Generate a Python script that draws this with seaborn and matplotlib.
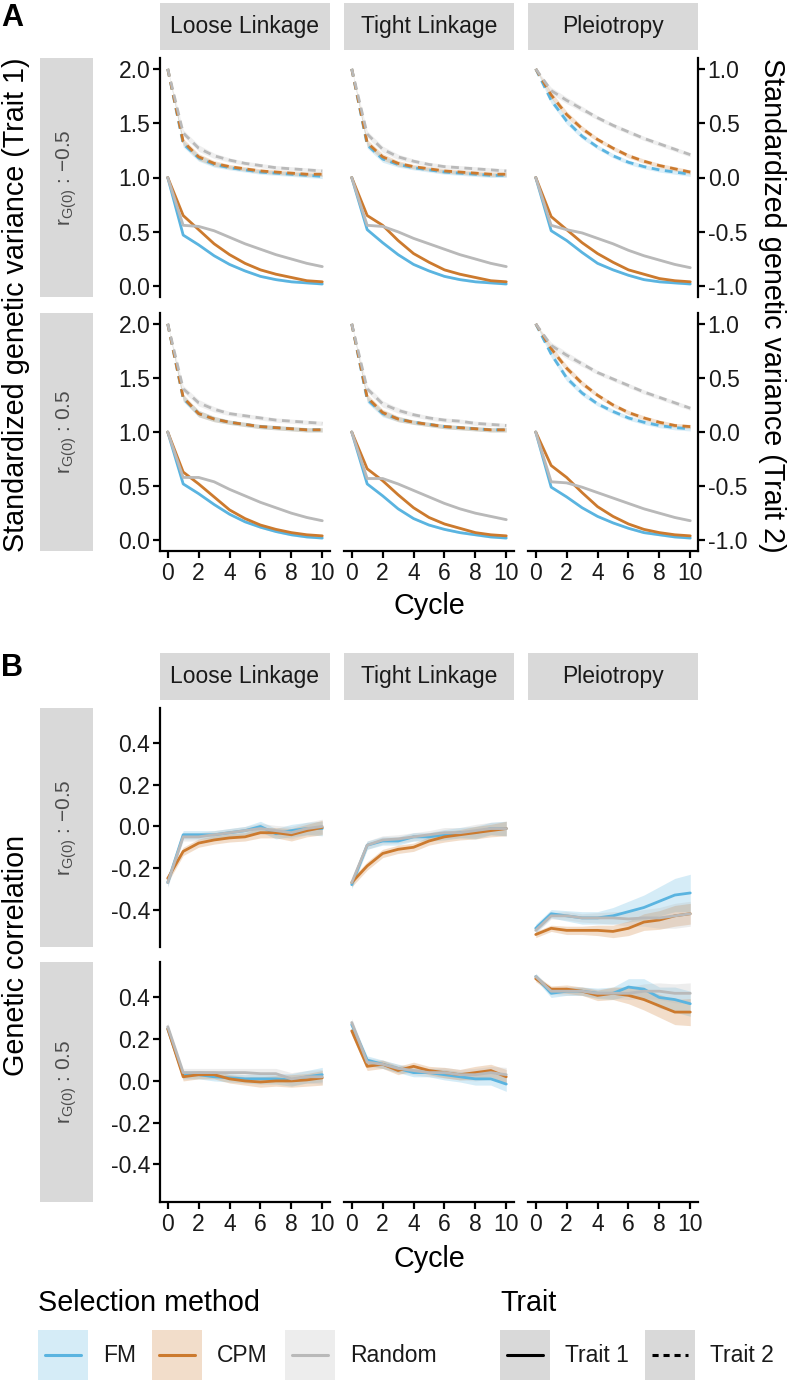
import numpy as np
import pandas as pd
import matplotlib
matplotlib.use("Agg")
import matplotlib.pyplot as plt
import seaborn as sns
from matplotlib.patches import Rectangle
from matplotlib.lines import Line2D
from matplotlib.ticker import FormatStrFormatter

sns.set_theme(style="white")
plt.rcParams['font.family'] = ['Liberation Sans', 'DejaVu Sans']
plt.rcParams['mathtext.fontset'] = 'custom'
plt.rcParams['mathtext.rm'] = 'Liberation Sans'
plt.rcParams['mathtext.it'] = 'Liberation Sans:italic'
plt.rcParams['axes.unicode_minus'] = False

# ---------------- data ----------------
CYCLES = list(range(11))
STRUCTURES = ["Loose Linkage", "Tight Linkage", "Pleiotropy"]
METHODS = ["FM", "CPM", "Random"]
TRAITS = ["Trait 1", "Trait 2"]
RG0 = [-0.5, 0.5]
RG0_LABELS = ["\u22120.5", "0.5"]
COLORS = {"FM": "#5AB4E0", "CPM": "#CC7A2E", "Random": "#B9B9B9"}
X_TICKS = [0, 2, 4, 6, 8, 10]
A_TICKS_LEFT = [0.0, 0.5, 1.0, 1.5, 2.0]
A_TICKS_RIGHT = [-1.0, -0.5, 0.0, 0.5, 1.0]
B_TICKS = [-0.4, -0.2, 0.0, 0.2, 0.4]

# Panel A: standardized genetic variance (Trait 2 in right-axis units)
A_NEG_LOOSE_T1_FM = [1.00, 0.47, 0.38, 0.28, 0.20, 0.14, 0.09, 0.06, 0.04, 0.03, 0.02]
A_NEG_LOOSE_T1_CPM = [1.00, 0.65, 0.52, 0.39, 0.29, 0.21, 0.15, 0.11, 0.08, 0.05, 0.04]
A_NEG_LOOSE_T1_RND = [1.00, 0.56, 0.55, 0.51, 0.45, 0.39, 0.34, 0.29, 0.25, 0.21, 0.18]
A_NEG_LOOSE_T2_FM = [1.00, 0.31, 0.18, 0.12, 0.09, 0.07, 0.05, 0.04, 0.03, 0.02, 0.01]
A_NEG_LOOSE_T2_CPM = [1.00, 0.33, 0.19, 0.13, 0.10, 0.08, 0.06, 0.05, 0.04, 0.03, 0.03]
A_NEG_LOOSE_T2_RND = [1.00, 0.41, 0.27, 0.20, 0.16, 0.13, 0.11, 0.09, 0.08, 0.07, 0.06]

A_NEG_TIGHT_T1_FM = [1.00, 0.52, 0.40, 0.29, 0.20, 0.14, 0.09, 0.06, 0.04, 0.03, 0.02]
A_NEG_TIGHT_T1_CPM = [1.00, 0.65, 0.56, 0.42, 0.30, 0.22, 0.15, 0.11, 0.08, 0.05, 0.04]
A_NEG_TIGHT_T1_RND = [1.00, 0.56, 0.55, 0.50, 0.44, 0.39, 0.34, 0.29, 0.25, 0.21, 0.18]
A_NEG_TIGHT_T2_FM = [1.00, 0.30, 0.17, 0.12, 0.09, 0.07, 0.05, 0.04, 0.03, 0.02, 0.02]
A_NEG_TIGHT_T2_CPM = [1.00, 0.32, 0.19, 0.13, 0.10, 0.08, 0.06, 0.05, 0.04, 0.03, 0.03]
A_NEG_TIGHT_T2_RND = [1.00, 0.40, 0.26, 0.19, 0.15, 0.12, 0.10, 0.09, 0.08, 0.07, 0.06]

A_NEG_PLEIO_T1_FM = [1.00, 0.51, 0.42, 0.31, 0.21, 0.15, 0.10, 0.06, 0.04, 0.03, 0.02]
A_NEG_PLEIO_T1_CPM = [1.00, 0.64, 0.52, 0.40, 0.30, 0.22, 0.15, 0.11, 0.07, 0.05, 0.04]
A_NEG_PLEIO_T1_RND = [1.00, 0.56, 0.52, 0.49, 0.44, 0.39, 0.33, 0.28, 0.24, 0.20, 0.17]
A_NEG_PLEIO_T2_FM = [1.00, 0.71, 0.52, 0.38, 0.28, 0.20, 0.14, 0.10, 0.07, 0.05, 0.03]
A_NEG_PLEIO_T2_CPM = [1.00, 0.76, 0.58, 0.45, 0.35, 0.27, 0.20, 0.15, 0.11, 0.08, 0.05]
A_NEG_PLEIO_T2_RND = [1.00, 0.80, 0.71, 0.63, 0.55, 0.48, 0.42, 0.36, 0.31, 0.26, 0.21]

A_POS_LOOSE_T1_FM = [1.00, 0.52, 0.43, 0.33, 0.24, 0.17, 0.12, 0.08, 0.05, 0.03, 0.02]
A_POS_LOOSE_T1_CPM = [1.00, 0.63, 0.52, 0.40, 0.28, 0.20, 0.14, 0.10, 0.07, 0.05, 0.04]
A_POS_LOOSE_T1_RND = [1.00, 0.58, 0.58, 0.54, 0.47, 0.41, 0.35, 0.30, 0.25, 0.21, 0.18]
A_POS_LOOSE_T2_FM = [1.00, 0.31, 0.17, 0.12, 0.09, 0.07, 0.05, 0.04, 0.03, 0.02, 0.02]
A_POS_LOOSE_T2_CPM = [1.00, 0.32, 0.17, 0.12, 0.09, 0.07, 0.05, 0.04, 0.03, 0.02, 0.02]
A_POS_LOOSE_T2_RND = [1.00, 0.40, 0.27, 0.21, 0.17, 0.15, 0.13, 0.11, 0.10, 0.09, 0.08]

A_POS_TIGHT_T1_FM = [1.00, 0.52, 0.41, 0.29, 0.20, 0.14, 0.10, 0.07, 0.05, 0.03, 0.02]
A_POS_TIGHT_T1_CPM = [1.00, 0.66, 0.55, 0.42, 0.30, 0.21, 0.15, 0.11, 0.07, 0.05, 0.04]
A_POS_TIGHT_T1_RND = [1.00, 0.57, 0.57, 0.52, 0.46, 0.40, 0.34, 0.29, 0.25, 0.22, 0.19]
A_POS_TIGHT_T2_FM = [1.00, 0.30, 0.17, 0.12, 0.09, 0.07, 0.05, 0.04, 0.03, 0.02, 0.02]
A_POS_TIGHT_T2_CPM = [1.00, 0.32, 0.18, 0.12, 0.09, 0.07, 0.05, 0.04, 0.03, 0.02, 0.02]
A_POS_TIGHT_T2_RND = [1.00, 0.40, 0.26, 0.20, 0.16, 0.13, 0.11, 0.10, 0.08, 0.07, 0.06]

A_POS_PLEIO_T1_FM = [1.00, 0.49, 0.40, 0.30, 0.22, 0.16, 0.11, 0.07, 0.05, 0.03, 0.02]
A_POS_PLEIO_T1_CPM = [1.00, 0.69, 0.58, 0.44, 0.31, 0.22, 0.15, 0.10, 0.07, 0.05, 0.04]
A_POS_PLEIO_T1_RND = [1.00, 0.54, 0.53, 0.49, 0.44, 0.39, 0.34, 0.29, 0.25, 0.21, 0.18]
A_POS_PLEIO_T2_FM = [1.00, 0.72, 0.50, 0.36, 0.26, 0.19, 0.13, 0.09, 0.06, 0.04, 0.03]
A_POS_PLEIO_T2_CPM = [1.00, 0.77, 0.59, 0.45, 0.34, 0.25, 0.18, 0.13, 0.09, 0.06, 0.05]
A_POS_PLEIO_T2_RND = [1.00, 0.80, 0.71, 0.63, 0.55, 0.49, 0.43, 0.37, 0.32, 0.27, 0.22]

# ribbon half-widths for panel A
A_BAND_T1 = [0.00, 0.01, 0.01, 0.01, 0.01, 0.01, 0.01, 0.01, 0.01, 0.01, 0.01]
A_BAND_T2 = [0.00, 0.03, 0.03, 0.025, 0.02, 0.02, 0.02, 0.02, 0.02, 0.02, 0.02]

# Panel B: genetic correlation
B_NEG_LOOSE_FM = [-0.27, -0.04, -0.04, -0.04, -0.03, -0.02, 0.00, -0.035, -0.02, -0.01, -0.01]
B_NEG_LOOSE_CPM = [-0.25, -0.12, -0.08, -0.065, -0.055, -0.05, -0.03, -0.03, -0.04, -0.02, -0.005]
B_NEG_LOOSE_RND = [-0.27, -0.05, -0.05, -0.04, -0.03, -0.02, -0.01, -0.02, -0.03, -0.01, 0.00]
B_NEG_TIGHT_FM = [-0.28, -0.09, -0.07, -0.07, -0.05, -0.05, -0.04, -0.03, -0.03, -0.01, -0.01]
B_NEG_TIGHT_CPM = [-0.27, -0.19, -0.13, -0.11, -0.10, -0.07, -0.05, -0.04, -0.03, -0.02, -0.01]
B_NEG_TIGHT_RND = [-0.27, -0.09, -0.065, -0.06, -0.05, -0.04, -0.03, -0.03, -0.02, -0.01, -0.01]
B_NEG_PLEIO_FM = [-0.49, -0.42, -0.43, -0.44, -0.44, -0.43, -0.41, -0.39, -0.36, -0.33, -0.32]
B_NEG_PLEIO_CPM = [-0.52, -0.49, -0.50, -0.50, -0.50, -0.505, -0.49, -0.46, -0.45, -0.43, -0.42]
B_NEG_PLEIO_RND = [-0.50, -0.43, -0.43, -0.44, -0.44, -0.44, -0.445, -0.44, -0.44, -0.43, -0.42]
B_POS_LOOSE_FM = [0.25, 0.03, 0.03, 0.02, 0.015, 0.01, 0.01, 0.01, 0.005, 0.02, 0.03]
B_POS_LOOSE_CPM = [0.25, 0.02, 0.03, 0.03, 0.01, 0.00, -0.005, 0.00, 0.00, 0.005, 0.015]
B_POS_LOOSE_RND = [0.26, 0.04, 0.04, 0.04, 0.04, 0.04, 0.035, 0.035, 0.01, 0.02, 0.02]
B_POS_TIGHT_FM = [0.27, 0.10, 0.08, 0.06, 0.04, 0.04, 0.03, 0.02, 0.01, 0.01, -0.015]
B_POS_TIGHT_CPM = [0.24, 0.07, 0.08, 0.05, 0.07, 0.05, 0.04, 0.03, 0.04, 0.05, 0.02]
B_POS_TIGHT_RND = [0.28, 0.09, 0.08, 0.06, 0.05, 0.04, 0.04, 0.03, 0.03, 0.04, 0.03]
B_POS_PLEIO_FM = [0.50, 0.42, 0.43, 0.43, 0.42, 0.42, 0.45, 0.44, 0.40, 0.39, 0.37]
B_POS_PLEIO_CPM = [0.49, 0.44, 0.44, 0.43, 0.41, 0.42, 0.41, 0.39, 0.36, 0.33, 0.33]
B_POS_PLEIO_RND = [0.50, 0.43, 0.43, 0.43, 0.42, 0.42, 0.42, 0.43, 0.43, 0.42, 0.42]

# ribbon half-widths for panel B
B_BAND_LINK = [0.02, 0.02, 0.02, 0.02, 0.02, 0.02, 0.025, 0.025, 0.03, 0.03, 0.035]
B_BAND_NEG_PLEIO_FM = [0.02, 0.02, 0.025, 0.03, 0.03, 0.04, 0.05, 0.06, 0.07, 0.08, 0.09]
B_BAND_NEG_PLEIO_CPM = [0.015, 0.015, 0.02, 0.02, 0.025, 0.03, 0.035, 0.04, 0.045, 0.05, 0.05]
B_BAND_NEG_PLEIO_RND = [0.015, 0.015, 0.02, 0.02, 0.025, 0.03, 0.035, 0.04, 0.05, 0.06, 0.06]
B_BAND_POS_PLEIO_FM = [0.015, 0.02, 0.02, 0.02, 0.025, 0.03, 0.04, 0.05, 0.05, 0.06, 0.06]
B_BAND_POS_PLEIO_CPM = [0.015, 0.015, 0.02, 0.02, 0.025, 0.03, 0.04, 0.05, 0.055, 0.06, 0.065]
B_BAND_POS_PLEIO_RND = [0.015, 0.015, 0.02, 0.02, 0.02, 0.025, 0.03, 0.035, 0.04, 0.045, 0.05]

# ---------------- assemble long tables ----------------
A_SERIES = [
    (-0.5, "Loose Linkage", "Trait 1", "FM", A_NEG_LOOSE_T1_FM), (-0.5, "Loose Linkage", "Trait 1", "CPM", A_NEG_LOOSE_T1_CPM),
    (-0.5, "Loose Linkage", "Trait 1", "Random", A_NEG_LOOSE_T1_RND), (-0.5, "Loose Linkage", "Trait 2", "FM", A_NEG_LOOSE_T2_FM),
    (-0.5, "Loose Linkage", "Trait 2", "CPM", A_NEG_LOOSE_T2_CPM), (-0.5, "Loose Linkage", "Trait 2", "Random", A_NEG_LOOSE_T2_RND),
    (-0.5, "Tight Linkage", "Trait 1", "FM", A_NEG_TIGHT_T1_FM), (-0.5, "Tight Linkage", "Trait 1", "CPM", A_NEG_TIGHT_T1_CPM),
    (-0.5, "Tight Linkage", "Trait 1", "Random", A_NEG_TIGHT_T1_RND), (-0.5, "Tight Linkage", "Trait 2", "FM", A_NEG_TIGHT_T2_FM),
    (-0.5, "Tight Linkage", "Trait 2", "CPM", A_NEG_TIGHT_T2_CPM), (-0.5, "Tight Linkage", "Trait 2", "Random", A_NEG_TIGHT_T2_RND),
    (-0.5, "Pleiotropy", "Trait 1", "FM", A_NEG_PLEIO_T1_FM), (-0.5, "Pleiotropy", "Trait 1", "CPM", A_NEG_PLEIO_T1_CPM),
    (-0.5, "Pleiotropy", "Trait 1", "Random", A_NEG_PLEIO_T1_RND), (-0.5, "Pleiotropy", "Trait 2", "FM", A_NEG_PLEIO_T2_FM),
    (-0.5, "Pleiotropy", "Trait 2", "CPM", A_NEG_PLEIO_T2_CPM), (-0.5, "Pleiotropy", "Trait 2", "Random", A_NEG_PLEIO_T2_RND),
    (0.5, "Loose Linkage", "Trait 1", "FM", A_POS_LOOSE_T1_FM), (0.5, "Loose Linkage", "Trait 1", "CPM", A_POS_LOOSE_T1_CPM),
    (0.5, "Loose Linkage", "Trait 1", "Random", A_POS_LOOSE_T1_RND), (0.5, "Loose Linkage", "Trait 2", "FM", A_POS_LOOSE_T2_FM),
    (0.5, "Loose Linkage", "Trait 2", "CPM", A_POS_LOOSE_T2_CPM), (0.5, "Loose Linkage", "Trait 2", "Random", A_POS_LOOSE_T2_RND),
    (0.5, "Tight Linkage", "Trait 1", "FM", A_POS_TIGHT_T1_FM), (0.5, "Tight Linkage", "Trait 1", "CPM", A_POS_TIGHT_T1_CPM),
    (0.5, "Tight Linkage", "Trait 1", "Random", A_POS_TIGHT_T1_RND), (0.5, "Tight Linkage", "Trait 2", "FM", A_POS_TIGHT_T2_FM),
    (0.5, "Tight Linkage", "Trait 2", "CPM", A_POS_TIGHT_T2_CPM), (0.5, "Tight Linkage", "Trait 2", "Random", A_POS_TIGHT_T2_RND),
    (0.5, "Pleiotropy", "Trait 1", "FM", A_POS_PLEIO_T1_FM), (0.5, "Pleiotropy", "Trait 1", "CPM", A_POS_PLEIO_T1_CPM),
    (0.5, "Pleiotropy", "Trait 1", "Random", A_POS_PLEIO_T1_RND), (0.5, "Pleiotropy", "Trait 2", "FM", A_POS_PLEIO_T2_FM),
    (0.5, "Pleiotropy", "Trait 2", "CPM", A_POS_PLEIO_T2_CPM), (0.5, "Pleiotropy", "Trait 2", "Random", A_POS_PLEIO_T2_RND),
]
B_SERIES = [
    (-0.5, "Loose Linkage", "FM", B_NEG_LOOSE_FM, B_BAND_LINK), (-0.5, "Loose Linkage", "CPM", B_NEG_LOOSE_CPM, B_BAND_LINK),
    (-0.5, "Loose Linkage", "Random", B_NEG_LOOSE_RND, B_BAND_LINK),
    (-0.5, "Tight Linkage", "FM", B_NEG_TIGHT_FM, B_BAND_LINK), (-0.5, "Tight Linkage", "CPM", B_NEG_TIGHT_CPM, B_BAND_LINK),
    (-0.5, "Tight Linkage", "Random", B_NEG_TIGHT_RND, B_BAND_LINK),
    (-0.5, "Pleiotropy", "FM", B_NEG_PLEIO_FM, B_BAND_NEG_PLEIO_FM), (-0.5, "Pleiotropy", "CPM", B_NEG_PLEIO_CPM, B_BAND_NEG_PLEIO_CPM),
    (-0.5, "Pleiotropy", "Random", B_NEG_PLEIO_RND, B_BAND_NEG_PLEIO_RND),
    (0.5, "Loose Linkage", "FM", B_POS_LOOSE_FM, B_BAND_LINK), (0.5, "Loose Linkage", "CPM", B_POS_LOOSE_CPM, B_BAND_LINK),
    (0.5, "Loose Linkage", "Random", B_POS_LOOSE_RND, B_BAND_LINK),
    (0.5, "Tight Linkage", "FM", B_POS_TIGHT_FM, B_BAND_LINK), (0.5, "Tight Linkage", "CPM", B_POS_TIGHT_CPM, B_BAND_LINK),
    (0.5, "Tight Linkage", "Random", B_POS_TIGHT_RND, B_BAND_LINK),
    (0.5, "Pleiotropy", "FM", B_POS_PLEIO_FM, B_BAND_POS_PLEIO_FM), (0.5, "Pleiotropy", "CPM", B_POS_PLEIO_CPM, B_BAND_POS_PLEIO_CPM),
    (0.5, "Pleiotropy", "Random", B_POS_PLEIO_RND, B_BAND_POS_PLEIO_RND),
]

rows = []
for rg, st, tr, me, vals in A_SERIES:
    band = A_BAND_T1 if tr == "Trait 1" else A_BAND_T2
    offset = 0.0 if tr == "Trait 1" else 1.0  # Trait 2 drawn against the secondary (right) axis
    for c, v, b in zip(CYCLES, vals, band):
        rows.append(dict(rg=rg, Structure=st, Trait=tr, Method=me, Cycle=c, Value=v,
                         Plot=v + offset, Lo=v + offset - b, Hi=v + offset + b))
dfA = pd.DataFrame(rows)

rows = []
for rg, st, me, vals, band in B_SERIES:
    for c, v, b in zip(CYCLES, vals, band):
        rows.append(dict(rg=rg, Structure=st, Trait="Trait 1", Method=me, Cycle=c, Value=v,
                         Plot=v, Lo=v - b, Hi=v + b))
dfB = pd.DataFrame(rows)

# ---------------- layout (pixel based) ----------------
W, H = 789, 1382
fig = plt.figure(figsize=(W / 100, H / 100), dpi=100)

def rect(x0, y0, x1, y1):
    return [x0 / W, 1 - y1 / H, (x1 - x0) / W, (y1 - y0) / H]

COLS_X = [(160, 330), (344, 514), (528, 698)]
A_ROWS_Y = [(58, 297), (313, 551)]
B_ROWS_Y = [(708, 947), (962, 1202)]
A_STRIP_Y = (3, 50)
B_STRIP_Y = (653, 700)
ROW_STRIP_X = (40, 93)
STRIP_BG = "#D9D9D9"
TXT = "#1A1A1A"
SPINE_LW = 1.6
TICK_FS = 16.5
STRIP_FS = 16.5
TITLE_FS = 20.7

def strip(x0, y0, x1, y1, text, rotation=0, color=TXT, fs=STRIP_FS):
    sa = fig.add_axes(rect(x0, y0, x1, y1))
    sa.set_facecolor(STRIP_BG)
    for s in sa.spines.values():
        s.set_visible(False)
    sa.set_xticks([]); sa.set_yticks([])
    sa.text(0.5, 0.5, text, transform=sa.transAxes, ha="center", va="center",
            rotation=rotation, fontsize=fs, color=color)

def style_axes(ax, left, bottom):
    for s in ["top", "right"]:
        ax.spines[s].set_visible(False)
    ax.spines["left"].set_visible(left)
    ax.spines["bottom"].set_visible(bottom)
    for s in ["left", "bottom"]:
        ax.spines[s].set_linewidth(SPINE_LW)
        ax.spines[s].set_color("black")
    ax.tick_params(axis="y", which="both", left=left, labelleft=left, direction="out",
                   length=5, width=SPINE_LW, color="black", labelsize=TICK_FS, labelcolor=TXT, pad=2)
    ax.tick_params(axis="x", which="both", bottom=bottom, labelbottom=bottom, direction="out",
                   length=5, width=SPINE_LW, color="black", labelsize=TICK_FS, labelcolor=TXT, pad=3)
    ax.set_xlim(-0.5, 10.5)
    ax.set_xticks(X_TICKS)
    ax.set_xlabel(""); ax.set_ylabel("")
    ax.set_facecolor("none")
    ax.grid(False)

def draw_facet(ax, sub, ribbon_alpha):
    for tr in TRAITS:
        for me in METHODS:
            s = sub[(sub.Trait == tr) & (sub.Method == me)]
            if len(s):
                ax.fill_between(s.Cycle, s.Lo, s.Hi, color=COLORS[me], alpha=ribbon_alpha, linewidth=0)
    sns.lineplot(data=sub, x="Cycle", y="Plot", hue="Method", style="Trait",
                 hue_order=METHODS, style_order=TRAITS, palette=COLORS,
                 dashes={"Trait 1": "", "Trait 2": (2.8, 2.0)}, linewidth=2.0,
                 errorbar=None, legend=False, ax=ax)

for j, st in enumerate(STRUCTURES):
    strip(COLS_X[j][0], A_STRIP_Y[0], COLS_X[j][1], A_STRIP_Y[1], st)
    strip(COLS_X[j][0], B_STRIP_Y[0], COLS_X[j][1], B_STRIP_Y[1], st)

for i, rg in enumerate(RG0):
    lab = r"$\mathregular{r_{G(0)}}$ : " + RG0_LABELS[i]
    strip(ROW_STRIP_X[0], A_ROWS_Y[i][0], ROW_STRIP_X[1], A_ROWS_Y[i][1], lab, rotation=90, color="#4D4D4D", fs=15)
    strip(ROW_STRIP_X[0], B_ROWS_Y[i][0], ROW_STRIP_X[1], B_ROWS_Y[i][1], lab, rotation=90, color="#4D4D4D", fs=15)
    for j, st in enumerate(STRUCTURES):
        # Panel A
        ax = fig.add_axes(rect(COLS_X[j][0], A_ROWS_Y[i][0], COLS_X[j][1], A_ROWS_Y[i][1]))
        sub = dfA[(dfA.rg == rg) & (dfA.Structure == st)]
        draw_facet(ax, sub, 0.22)
        style_axes(ax, left=(j == 0), bottom=(i == 1))
        ax.set_ylim(-0.1, 2.1)
        ax.set_yticks(A_TICKS_LEFT)
        ax.yaxis.set_major_formatter(FormatStrFormatter("%.1f"))
        if j == 2:
            sec = ax.secondary_yaxis("right", functions=(lambda y: y - 1, lambda y: y + 1))
            sec.set_yticks(A_TICKS_RIGHT)
            sec.yaxis.set_major_formatter(FormatStrFormatter("%.1f"))
            sec.spines["right"].set_linewidth(SPINE_LW)
            sec.spines["right"].set_color("black")
            sec.tick_params(axis="y", direction="out", length=5, width=SPINE_LW, color="black",
                            labelsize=TICK_FS, labelcolor=TXT, pad=2)
        # Panel B
        axb = fig.add_axes(rect(COLS_X[j][0], B_ROWS_Y[i][0], COLS_X[j][1], B_ROWS_Y[i][1]))
        subb = dfB[(dfB.rg == rg) & (dfB.Structure == st)]
        draw_facet(axb, subb, 0.25)
        style_axes(axb, left=(j == 0), bottom=(i == 1))
        axb.set_ylim(-0.58, 0.57)
        axb.set_yticks(B_TICKS)
        axb.yaxis.set_major_formatter(FormatStrFormatter("%.1f"))

# ---- titles / labels ----
def ftext(x, y, s, **kw):
    fig.text(x / W, 1 - y / H, s, **kw)

ftext(1, 18, "A", fontsize=22, fontweight="bold", ha="left", va="center", color="black")
ftext(1, 668, "B", fontsize=22, fontweight="bold", ha="left", va="center", color="black")
ftext(16, 305, "Standardized genetic variance (Trait 1)", rotation=90, ha="center", va="center", fontsize=TITLE_FS, color="black")
ftext(772, 305, "Standardized genetic variance (Trait 2)", rotation=270, ha="center", va="center", fontsize=TITLE_FS, color="black")
ftext(16, 955, "Genetic correlation", rotation=90, ha="center", va="center", fontsize=TITLE_FS, color="black")
ftext(429, 614, "Cycle", ha="center", va="baseline", fontsize=TITLE_FS, color="black")
ftext(429, 1267, "Cycle", ha="center", va="baseline", fontsize=TITLE_FS, color="black")

# ---- legend ----
def key_box(x0, color_fill, line_color, dashed=False, fill_alpha=1.0):
    y0, size = 1330, 50
    fig.add_artist(Rectangle((x0 / W, 1 - (y0 + size) / H), size / W, size / H,
                             transform=fig.transFigure, facecolor=color_fill, alpha=fill_alpha,
                             edgecolor="none"))
    yc = 1 - (y0 + size / 2) / H
    fig.add_artist(Line2D([(x0 + 7) / W, (x0 + size - 7) / W], [yc, yc], transform=fig.transFigure,
                          color=line_color, linewidth=2.2,
                          linestyle=(0, (2.0, 1.6)) if dashed else "-"))

ftext(38, 1303, "Selection method", ha="left", va="center", fontsize=TITLE_FS, color="black")
legend_x = {"FM": 38, "CPM": 152, "Random": 285}
for me in METHODS:
    x0 = legend_x[me]
    key_box(x0, COLORS[me], COLORS[me], fill_alpha=0.25)
    ftext(x0 + 65, 1355, me, ha="left", va="center", fontsize=16.5, color=TXT)

ftext(500, 1303, "Trait", ha="left", va="center", fontsize=TITLE_FS, color="black")
trait_x = {"Trait 1": 500, "Trait 2": 645}
for tr in TRAITS:
    x0 = trait_x[tr]
    key_box(x0, STRIP_BG, "black", dashed=(tr == "Trait 2"))
    ftext(x0 + 65, 1355, tr, ha="left", va="center", fontsize=16.5, color=TXT)

fig.savefig("out.png", dpi=100, facecolor="white")
